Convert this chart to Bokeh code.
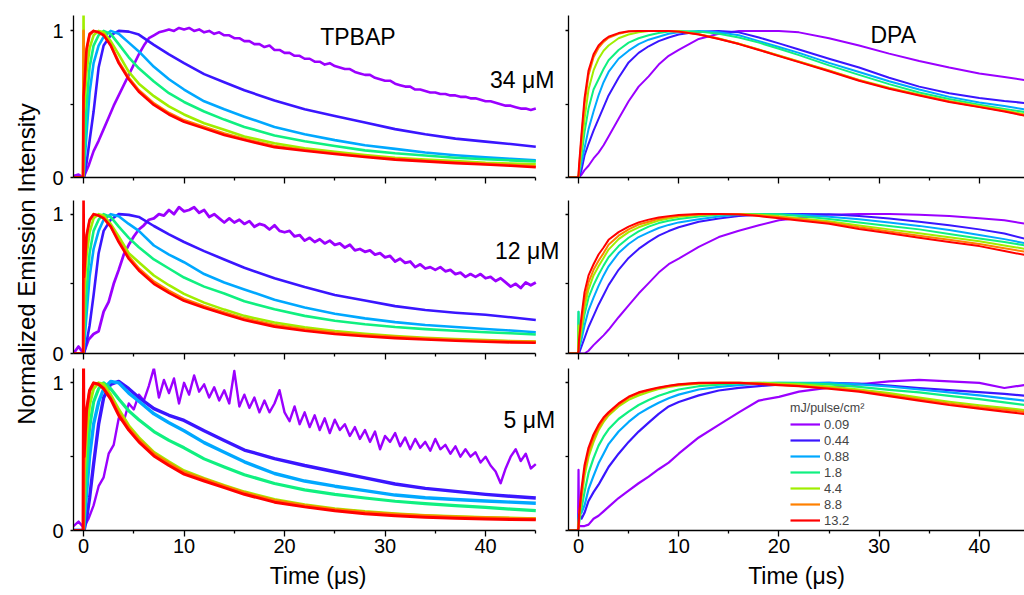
import numpy as np
from math import pi
from bokeh.plotting import figure
from bokeh.models import FixedTicker, Label, Legend, LegendItem, Range1d
from bokeh.layouts import row, column
from bokeh.embed import file_html
from bokeh.resources import INLINE

FONT = "Liberation Sans"

fluences = ["0.09", "0.44", "0.88", "1.8", "4.4", "8.8", "13.2"]
colors = ["#9B00FF", "#3A16FF", "#00A8FF", "#10F080", "#A0EE00", "#FF8000", "#FF0000"]

# ---------------- TPBAP (left column) ----------------
t_left = [-1.0, -0.5, -0.05, 0.0, 0.05, 0.3, 0.6, 1.0, 1.5, 2.0, 2.7, 3.5, 4.5, 5.5, 7.0,
          8.5, 10, 12, 14, 16, 19, 22, 25, 28, 31, 34, 37, 40, 42.5, 45]
t_noisy = np.round(np.arange(-1.0, 45.01, 0.5), 2)

tpbap34_009 = [0.01, 0.02, 0.0, 0.08, 0.18, 0.25, 0.33, 0.41, 0.49, 0.56,
               0.63, 0.7, 0.77, 0.84, 0.9, 0.95, 0.97, 0.99, 1.0, 1.01,
               1.0, 1.02, 1.01, 1.02, 1.0, 1.01, 0.99, 1.0, 0.98, 0.99,
               0.97, 0.97, 0.95, 0.95, 0.93, 0.93, 0.91, 0.91, 0.89, 0.9,
               0.87, 0.87, 0.85, 0.85, 0.83, 0.83, 0.81, 0.81, 0.79, 0.79,
               0.77, 0.78, 0.76, 0.75, 0.74, 0.74, 0.72, 0.71, 0.7, 0.7,
               0.68, 0.67, 0.66, 0.66, 0.64, 0.63, 0.62, 0.62, 0.6, 0.6,
               0.59, 0.58, 0.58, 0.57, 0.57, 0.56, 0.56, 0.55, 0.55, 0.54,
               0.54, 0.53, 0.52, 0.52, 0.51, 0.5, 0.49, 0.49, 0.48, 0.47,
               0.47, 0.46, 0.47]
tpbap34_044 = [0, 0, 0, 0, 0.0, 0.1, 0.25, 0.45, 0.75, 0.9, 0.97, 1.0, 0.995, 0.975, 0.905,
               0.84, 0.78, 0.705, 0.65, 0.595, 0.525, 0.465, 0.42, 0.375, 0.33, 0.295, 0.265, 0.245, 0.228, 0.21]
tpbap34_088 = [0, 0, 0, 0, 0.05, 0.3, 0.58, 0.78, 0.9, 0.96, 1.0, 0.98, 0.92, 0.86, 0.755,
               0.67, 0.6, 0.52, 0.465, 0.415, 0.345, 0.295, 0.255, 0.22, 0.195, 0.17, 0.152, 0.137, 0.127, 0.118]
tpbap34_18 = [0, 0, 0, 0, 0.1, 0.5, 0.75, 0.9, 0.97, 1.0, 0.98, 0.91, 0.82, 0.745, 0.655,
              0.575, 0.515, 0.45, 0.395, 0.345, 0.287, 0.247, 0.215, 0.185, 0.165, 0.15, 0.135, 0.124, 0.117, 0.11]
tpbap34_44 = [0, 0, 0, 1.12, 0.45, 0.72, 0.88, 0.97, 1.0, 0.99, 0.93, 0.84, 0.72, 0.64, 0.555,
              0.485, 0.43, 0.37, 0.325, 0.28, 0.233, 0.2, 0.175, 0.153, 0.135, 0.122, 0.112, 0.1, 0.095, 0.09]
tpbap34_88 = [0, 0, 0, 1.0, 0.6, 0.86, 0.97, 1.0, 0.99, 0.975, 0.905, 0.79, 0.68, 0.595, 0.505,
              0.44, 0.39, 0.345, 0.3, 0.262, 0.215, 0.188, 0.165, 0.145, 0.127, 0.114, 0.102, 0.093, 0.085, 0.077]
tpbap34_132 = [0, 0, 0, 0.55, 0.6, 0.88, 0.98, 1.0, 0.99, 0.97, 0.9, 0.78, 0.67, 0.585, 0.495,
               0.43, 0.38, 0.335, 0.29, 0.255, 0.207, 0.182, 0.16, 0.14, 0.122, 0.11, 0.098, 0.089, 0.08, 0.07]

tpbap12_009 = [0.0, 0.05, 0.0, 0.1, 0.14, 0.16, 0.3, 0.37, 0.5, 0.6,
               0.71, 0.78, 0.84, 0.89, 0.92, 0.96, 0.97, 1.0, 0.99, 1.03,
               1.0, 1.05, 1.02, 1.03, 1.05, 1.01, 1.03, 0.98, 1.0, 0.97,
               0.94, 0.97, 0.94, 0.96, 0.93, 0.95, 0.91, 0.93, 0.92, 0.89,
               0.92, 0.88, 0.87, 0.88, 0.84, 0.85, 0.81, 0.83, 0.8, 0.82,
               0.79, 0.81, 0.78, 0.79, 0.76, 0.78, 0.74, 0.75, 0.73, 0.74,
               0.71, 0.72, 0.69, 0.7, 0.66, 0.68, 0.65, 0.66, 0.62, 0.64,
               0.61, 0.62, 0.6, 0.62, 0.59, 0.6, 0.57, 0.58, 0.55, 0.57,
               0.55, 0.57, 0.54, 0.55, 0.52, 0.54, 0.51, 0.48, 0.5, 0.47,
               0.51, 0.49, 0.51]
tpbap12_044 = [0, 0, 0, 0, 0.0, 0.08, 0.2, 0.42, 0.72, 0.88, 0.96, 1.0, 0.995, 0.98, 0.915,
               0.855, 0.8, 0.735, 0.675, 0.615, 0.54, 0.477, 0.42, 0.38, 0.34, 0.312, 0.293, 0.278, 0.26, 0.24]
tpbap12_088 = [0, 0, 0, 0, 0.05, 0.28, 0.55, 0.75, 0.88, 0.96, 1.0, 0.985, 0.93, 0.88, 0.775,
               0.71, 0.655, 0.57, 0.51, 0.46, 0.385, 0.33, 0.285, 0.252, 0.225, 0.205, 0.19, 0.176, 0.165, 0.153]
tpbap12_18 = [0, 0, 0, 0, 0.1, 0.45, 0.72, 0.88, 0.96, 1.0, 0.98, 0.91, 0.83, 0.763, 0.675,
              0.61, 0.545, 0.48, 0.43, 0.375, 0.317, 0.27, 0.235, 0.21, 0.19, 0.175, 0.163, 0.153, 0.145, 0.136]
tpbap12_44 = [0, 0, 0, 0, 0.4, 0.7, 0.87, 0.97, 1.0, 0.99, 0.93, 0.84, 0.72, 0.655, 0.56,
              0.49, 0.428, 0.365, 0.315, 0.27, 0.222, 0.188, 0.162, 0.142, 0.126, 0.113, 0.103, 0.097, 0.09, 0.086]
tpbap12_88 = [0, 0, 0, 0, 0.5, 0.83, 0.95, 1.0, 0.99, 0.975, 0.915, 0.81, 0.695, 0.61, 0.515,
              0.45, 0.392, 0.34, 0.295, 0.252, 0.204, 0.173, 0.15, 0.133, 0.119, 0.108, 0.099, 0.092, 0.087, 0.084]
tpbap12_132 = [0, 0, 0, 1.15, 0.55, 0.85, 0.96, 1.0, 0.99, 0.97, 0.91, 0.8, 0.68, 0.596, 0.5,
               0.435, 0.378, 0.328, 0.283, 0.24, 0.193, 0.163, 0.14, 0.124, 0.11, 0.1, 0.091, 0.084, 0.08, 0.077]

tpbap5_009 = [0.03, 0.06, 0.02, 0.08, 0.17, 0.3, 0.36, 0.52, 0.58, 0.76,
              0.74, 0.86, 0.82, 0.92, 0.88, 0.98, 1.1, 0.9, 1.02, 0.93,
              1.03, 0.86, 1.0, 0.92, 1.05, 0.94, 0.99, 0.9, 0.97, 0.88,
              0.95, 0.86, 1.08, 0.84, 0.92, 0.83, 0.9, 0.8, 0.88, 0.8,
              0.86, 0.95, 0.8, 0.74, 0.84, 0.72, 0.8, 0.7, 0.78, 0.68,
              0.76, 0.66, 0.75, 0.68, 0.72, 0.64, 0.7, 0.62, 0.68, 0.6,
              0.67, 0.55, 0.64, 0.6, 0.66, 0.57, 0.63, 0.55, 0.62, 0.56,
              0.6, 0.54, 0.62, 0.55, 0.58, 0.52, 0.57, 0.5, 0.55, 0.5,
              0.53, 0.46, 0.5, 0.44, 0.4, 0.32, 0.42, 0.5, 0.55, 0.47,
              0.52, 0.42, 0.45]
tpbap5_044 = [0, 0, 0, 0, 0.0, 0.08, 0.22, 0.45, 0.72, 0.9, 0.99, 1.01, 0.96, 0.9, 0.825,
              0.78, 0.745, 0.675, 0.61, 0.545, 0.487, 0.44, 0.398, 0.356, 0.315, 0.285, 0.265, 0.245, 0.232, 0.22]
tpbap5_088 = [0, 0, 0, 0, 0.05, 0.25, 0.5, 0.72, 0.87, 0.96, 1.01, 1.0, 0.93, 0.875, 0.79,
              0.73, 0.675, 0.595, 0.53, 0.465, 0.386, 0.335, 0.3, 0.27, 0.24, 0.222, 0.21, 0.2, 0.192, 0.185]
tpbap5_18 = [0, 0, 0, 0, 0.1, 0.42, 0.7, 0.87, 0.96, 1.0, 0.96, 0.89, 0.81, 0.75, 0.67,
             0.61, 0.56, 0.485, 0.43, 0.378, 0.318, 0.275, 0.245, 0.22, 0.198, 0.182, 0.168, 0.157, 0.145, 0.135]
tpbap5_44 = [0, 0, 0, 0, 0.35, 0.65, 0.85, 0.96, 1.0, 0.99, 0.92, 0.82, 0.71, 0.63, 0.53,
             0.465, 0.405, 0.352, 0.305, 0.262, 0.21, 0.175, 0.148, 0.128, 0.113, 0.102, 0.094, 0.088, 0.084, 0.08]
tpbap5_88 = [0, 0, 0, 0, 0.45, 0.8, 0.94, 0.995, 0.99, 0.965, 0.9, 0.795, 0.695, 0.615, 0.52,
             0.455, 0.395, 0.347, 0.3, 0.256, 0.203, 0.17, 0.143, 0.123, 0.11, 0.1, 0.092, 0.086, 0.082, 0.079]
tpbap5_132 = [0, 0, 0, 1.15, 0.5, 0.82, 0.95, 1.0, 0.99, 0.96, 0.89, 0.78, 0.68, 0.6, 0.505,
              0.44, 0.382, 0.335, 0.29, 0.245, 0.192, 0.16, 0.133, 0.113, 0.1, 0.09, 0.083, 0.078, 0.074, 0.072]

# ---------------- DPA (right column) ----------------
t_right = [-1.0, -0.05, 0.0, 0.05, 0.3, 0.6, 1.0, 1.5, 2.0, 2.5, 3.0, 4.0, 5.0, 6.0, 7.0, 8.0,
           9.0, 10.0, 12.0, 14.0, 16.0, 18.0, 20.0, 22.0, 25.0, 28.0, 31.0, 34.0, 37.0, 40.0, 42.5, 45.0]

dpa34_009 = [0, 0, 0, 0, 0.02, 0.05, 0.08, 0.13, 0.17, 0.22, 0.28, 0.4, 0.52, 0.62, 0.69, 0.77,
             0.83, 0.87, 0.945, 0.98, 1.0, 1.0, 1.0, 0.99, 0.95, 0.9, 0.845, 0.795, 0.75, 0.71, 0.685, 0.66]
dpa34_044 = [0, 0, 0, 0, 0.05, 0.15, 0.23, 0.32, 0.4, 0.48, 0.56, 0.68, 0.785, 0.85, 0.895, 0.93,
             0.955, 0.975, 0.995, 1.0, 0.99, 0.955, 0.915, 0.873, 0.81, 0.75, 0.68, 0.62, 0.575, 0.543, 0.522, 0.505]
dpa34_088 = [0, 0, 0, 0.02, 0.1, 0.2, 0.33, 0.45, 0.56, 0.65, 0.72, 0.81, 0.865, 0.91, 0.94, 0.96,
             0.98, 0.99, 1.0, 0.99, 0.97, 0.93, 0.89, 0.85, 0.782, 0.72, 0.657, 0.6, 0.55, 0.512, 0.487, 0.46]
dpa34_18 = [0, 0, 0, 0.03, 0.15, 0.31, 0.47, 0.6, 0.67, 0.74, 0.8, 0.87, 0.92, 0.95, 0.97, 0.985,
            0.995, 1.0, 0.995, 0.98, 0.955, 0.92, 0.878, 0.835, 0.765, 0.7, 0.637, 0.58, 0.535, 0.497, 0.468, 0.442]
dpa34_44 = [0, 0, 0, 0.05, 0.2, 0.4, 0.6, 0.73, 0.81, 0.865, 0.9, 0.95, 0.975, 0.99, 1.0, 1.0,
            1.0, 0.997, 0.978, 0.948, 0.912, 0.873, 0.832, 0.792, 0.73, 0.666, 0.612, 0.566, 0.522, 0.488, 0.458, 0.425]
dpa34_88 = [0, 0, 0, 0.06, 0.27, 0.5, 0.7, 0.82, 0.885, 0.925, 0.953, 0.98, 0.995, 1.0, 1.0, 1.0,
            1.0, 0.996, 0.977, 0.947, 0.912, 0.872, 0.83, 0.789, 0.728, 0.663, 0.608, 0.563, 0.518, 0.483, 0.453, 0.418]
dpa34_132 = [0, 0, 0.02, 0.08, 0.3, 0.54, 0.73, 0.84, 0.9, 0.935, 0.96, 0.985, 0.998, 1.0, 1.0, 1.0,
             1.0, 0.995, 0.975, 0.945, 0.91, 0.87, 0.828, 0.787, 0.725, 0.66, 0.605, 0.56, 0.515, 0.48, 0.45, 0.415]

dpa12_009 = [0, 0, 0, 0, 0, 0, 0.02, 0.06, 0.095, 0.13, 0.17, 0.26, 0.345, 0.43, 0.505, 0.58,
             0.64, 0.68, 0.765, 0.835, 0.88, 0.92, 0.955, 0.972, 0.995, 1.0, 1.0, 0.995, 0.985, 0.97, 0.955, 0.925]
dpa12_044 = [0, 0, 0, 0.0, 0.05, 0.11, 0.19, 0.27, 0.35, 0.42, 0.49, 0.6, 0.685, 0.75, 0.8, 0.845,
             0.878, 0.905, 0.945, 0.968, 0.985, 0.995, 1.0, 1.0, 0.998, 0.985, 0.968, 0.945, 0.92, 0.89, 0.86, 0.815]
dpa12_088 = [0, 0, 0.3, 0.03, 0.1, 0.2, 0.31, 0.4, 0.485, 0.56, 0.625, 0.72, 0.785, 0.835, 0.868, 0.9,
             0.922, 0.94, 0.962, 0.982, 0.995, 1.0, 1.0, 0.995, 0.98, 0.962, 0.94, 0.915, 0.885, 0.85, 0.82, 0.785]
dpa12_18 = [0, 0, 0.3, 0.05, 0.14, 0.28, 0.4, 0.49, 0.565, 0.63, 0.69, 0.77, 0.83, 0.875, 0.91, 0.935,
            0.952, 0.965, 0.982, 0.995, 1.0, 1.0, 0.998, 0.985, 0.965, 0.94, 0.915, 0.89, 0.857, 0.825, 0.8, 0.77]
dpa12_44 = [0, 0, 0.2, 0.06, 0.18, 0.33, 0.46, 0.56, 0.625, 0.685, 0.745, 0.82, 0.87, 0.905, 0.93, 0.953,
            0.968, 0.98, 0.993, 1.0, 1.0, 0.995, 0.985, 0.97, 0.948, 0.918, 0.89, 0.862, 0.833, 0.805, 0.775, 0.745]
dpa12_88 = [0, 0, 0.02, 0.08, 0.22, 0.38, 0.51, 0.6, 0.665, 0.72, 0.78, 0.845, 0.89, 0.925, 0.945, 0.965,
            0.978, 0.987, 0.997, 1.0, 1.0, 0.99, 0.978, 0.962, 0.94, 0.905, 0.875, 0.845, 0.815, 0.785, 0.755, 0.725]
dpa12_132 = [0, 0, 0.02, 0.1, 0.27, 0.44, 0.56, 0.64, 0.71, 0.76, 0.815, 0.87, 0.91, 0.94, 0.96, 0.975,
             0.985, 0.993, 1.0, 1.0, 0.997, 0.985, 0.97, 0.953, 0.93, 0.893, 0.862, 0.83, 0.8, 0.77, 0.735, 0.7]

dpa5_009 = [0, 0, 0.41, 0.03, 0.03, 0.03, 0.04, 0.08, 0.1, 0.13, 0.16, 0.22, 0.27, 0.32, 0.365, 0.415,
            0.46, 0.52, 0.63, 0.715, 0.8, 0.88, 0.905, 0.94, 0.968, 0.99, 1.01, 1.02, 1.01, 1.0, 0.965, 0.99]
dpa5_044 = [0, 0, 0.1, 0.12, 0.08, 0.12, 0.2, 0.26, 0.31, 0.37, 0.43, 0.52, 0.6, 0.67, 0.73, 0.79,
            0.84, 0.87, 0.915, 0.948, 0.966, 0.978, 0.988, 0.994, 1.0, 0.995, 0.982, 0.965, 0.95, 0.937, 0.925, 0.91]
dpa5_088 = [0, 0, 0.1, 0.12, 0.12, 0.17, 0.28, 0.37, 0.455, 0.52, 0.585, 0.67, 0.735, 0.79, 0.83, 0.865,
            0.895, 0.92, 0.955, 0.972, 0.985, 0.995, 1.0, 1.0, 1.0, 0.99, 0.975, 0.955, 0.935, 0.915, 0.895, 0.875]
dpa5_18 = [0, 0, 0.05, 0.05, 0.15, 0.26, 0.39, 0.49, 0.575, 0.635, 0.685, 0.755, 0.805, 0.85, 0.883, 0.912,
           0.935, 0.955, 0.977, 0.988, 0.996, 1.0, 1.0, 0.998, 0.99, 0.973, 0.952, 0.935, 0.912, 0.89, 0.868, 0.845]
dpa5_44 = [0, 0, 0.05, 0.08, 0.22, 0.37, 0.5, 0.6, 0.68, 0.735, 0.78, 0.84, 0.885, 0.915, 0.938, 0.958,
           0.972, 0.982, 0.995, 1.0, 1.0, 1.0, 0.995, 0.99, 0.975, 0.955, 0.93, 0.9, 0.872, 0.848, 0.83, 0.812]
dpa5_88 = [0, 0, 0.02, 0.09, 0.25, 0.41, 0.53, 0.625, 0.695, 0.75, 0.79, 0.85, 0.9, 0.93, 0.95, 0.965,
           0.978, 0.988, 0.998, 1.0, 1.0, 0.995, 0.988, 0.98, 0.965, 0.945, 0.918, 0.888, 0.86, 0.835, 0.818, 0.8]
dpa5_132 = [0, 0, 0.02, 0.1, 0.28, 0.44, 0.56, 0.65, 0.715, 0.765, 0.8, 0.86, 0.905, 0.935, 0.952, 0.968,
            0.98, 0.99, 1.0, 1.0, 1.0, 0.993, 0.985, 0.978, 0.96, 0.94, 0.91, 0.88, 0.85, 0.825, 0.805, 0.785]


def hide_labels(axis):
    axis.major_label_text_font_size = "0px"
    axis.major_label_text_color = None
    axis.major_label_text_alpha = 0
    axis.major_label_standoff = 0


def style_axes(p, show_x, show_y, xlabel=None, x_bounds=None):
    xa = p.xaxis[0]
    ya = p.yaxis[0]
    xa.ticker = FixedTicker(ticks=[0, 10, 20, 30, 40], minor_ticks=[5, 15, 25, 35, 45])
    xa.major_tick_out = 6
    xa.major_tick_in = 0
    xa.minor_tick_out = 3
    xa.minor_tick_in = 0
    if x_bounds is not None:
        xa.bounds = x_bounds
    ya.ticker = FixedTicker(ticks=[0, 1], minor_ticks=[0.5])
    ya.major_tick_out = 3
    ya.major_tick_in = 0
    ya.minor_tick_out = 3
    ya.minor_tick_in = 0
    for a in (xa, ya):
        a.axis_line_width = 1.3
        a.major_tick_line_width = 1.3
        a.minor_tick_line_width = 1.3
        a.axis_line_color = "black"
        a.major_tick_line_color = "black"
        a.minor_tick_line_color = "black"
        a.major_label_text_font = FONT
        a.major_label_text_color = "black"
        a.major_label_text_font_size = "20px"
    if show_x:
        xa.major_label_standoff = 2
    else:
        hide_labels(xa)
    if xlabel:
        xa.axis_label = xlabel
        xa.axis_label_text_font = FONT
        xa.axis_label_text_font_size = "23px"
        xa.axis_label_text_font_style = "normal"
        xa.axis_label_text_color = "black"
        xa.axis_label_standoff = 7
    if show_y:
        ya.major_label_standoff = 7
    else:
        hide_labels(ya)


def make_panel(width, height, bl, br, bt, bb, x_end, y_end, show_x, show_y, xlabel=None, x_bounds=None):
    p = figure(width=width, height=height, x_range=Range1d(-1, x_end), y_range=Range1d(0, y_end),
               output_backend="svg", toolbar_location=None, tools="",
               min_border_left=bl, min_border_right=br, min_border_top=bt, min_border_bottom=bb)
    p.title.visible = False
    p.outline_line_color = None
    p.xgrid.visible = False
    p.ygrid.visible = False
    p.background_fill_color = "white"
    p.border_fill_color = "white"
    style_axes(p, show_x, show_y, xlabel, x_bounds)
    return p


def add_curves(p, t, series, widths, t_first=None):
    rs = []
    for i, (ys, c) in enumerate(zip(series, colors)):
        tt = t_first if (i == 0 and t_first is not None) else t
        rs.append(p.line(list(tt), ys, line_color=c, line_width=widths[i], line_join="round"))
    return rs


def add_text(p, x, y, text, size, align="left"):
    p.add_layout(Label(x=x, y=y, text=text, text_font=FONT, text_font_size=size,
                       text_align=align, text_baseline="middle", text_color="black"))


W_TOP = [2.6] * 7
W_MID = [2.8, 2.6, 2.6, 2.6, 2.6, 2.6, 2.6]
W_BOT = [2.4, 3.4, 3.4, 3.2, 3.0, 3.0, 3.0]
W_R = [2.0] * 7
W_RB = [2.2] * 7

# Left column: 514 px wide (border 25 | frame 489); x scale ~10.05 px per µs; axis drawn -1..45
XL_END = -1 + 489 / 10.05
# Right column: 462 px wide (border 6 | frame 456)
XR_END = -1 + 456 / 10.02

tl = make_panel(514, 189, 25, 0, 15, 12, XL_END, 1.105, False, True, x_bounds=(-1, 45))
add_curves(tl, t_left, [tpbap34_009, tpbap34_044, tpbap34_088, tpbap34_18, tpbap34_44, tpbap34_88, tpbap34_132], W_TOP, t_noisy)
add_text(tl, 23.55, 0.957, "TPBAP", "23px")
add_text(tl, 43.65, 0.662, "34 μM", "23px", "center")

tr = make_panel(462, 189, 6, 0, 15, 12, XR_END, 1.105, False, False)
add_curves(tr, t_right, [dpa34_009, dpa34_044, dpa34_088, dpa34_18, dpa34_44, dpa34_88, dpa34_132], W_R)
add_text(tr, 29.14, 0.969, "DPA", "23px")

ml = make_panel(514, 176, 25, 0, 11, 12, XL_END, 1.098, False, True, x_bounds=(-1, 45))
add_curves(ml, t_left, [tpbap12_009, tpbap12_044, tpbap12_088, tpbap12_18, tpbap12_44, tpbap12_88, tpbap12_132], W_MID, t_noisy)
add_text(ml, 44.15, 0.739, "12 μM", "23px", "center")

mr = make_panel(462, 176, 6, 0, 3, 12, XR_END, 1.097, False, False)
add_curves(mr, t_right, [dpa12_009, dpa12_044, dpa12_088, dpa12_18, dpa12_44, dpa12_88, dpa12_132], W_R)

bl = make_panel(514, 230, 25, 0, 3, 65, XL_END, 1.097, True, True, "Time (μs)", x_bounds=(-1, 45))
add_curves(bl, t_left, [tpbap5_009, tpbap5_044, tpbap5_088, tpbap5_18, tpbap5_44, tpbap5_88, tpbap5_132], W_BOT, t_noisy)
add_text(bl, 44.35, 0.745, "5 μM", "23px", "center")

br = make_panel(462, 230, 6, 0, 3, 65, XR_END, 1.097, True, False, "Time (μs)")
rs = add_curves(br, t_right, [dpa5_009, dpa5_044, dpa5_088, dpa5_18, dpa5_44, dpa5_88, dpa5_132], W_RB)

legend = Legend(items=[LegendItem(label=f, renderers=[r]) for f, r in zip(fluences, rs)],
                location=(222, 2), title="mJ/pulse/cm²",
                title_text_font=FONT, title_text_font_size="12.5px", title_text_font_style="normal",
                title_standoff=1, label_text_font=FONT, label_text_font_size="13px",
                glyph_width=30, glyph_height=16, label_height=16, label_standoff=4,
                spacing=0, padding=0, margin=0,
                background_fill_alpha=0, border_line_alpha=0)
br.add_layout(legend)

# y-axis title spanning the three rows
yl = figure(width=48, height=595, x_range=Range1d(0, 1), y_range=Range1d(0, 1),
            output_backend="svg", toolbar_location=None, tools="", min_border=0,
            x_axis_location=None, y_axis_location=None)
yl.title.visible = False
yl.outline_line_color = None
yl.xgrid.visible = False
yl.ygrid.visible = False
yl.add_layout(Label(x=26 / 48, y=(595 - 263.5) / 595, text="Normalized Emission Intensity",
                    angle=pi / 2, text_font=FONT, text_font_size="24px",
                    text_align="center", text_baseline="middle", text_color="black"))

layout = row(yl, column(row(tl, tr), row(ml, mr), row(bl, br)))

open("out.html", "w").write(file_html(layout, INLINE))
